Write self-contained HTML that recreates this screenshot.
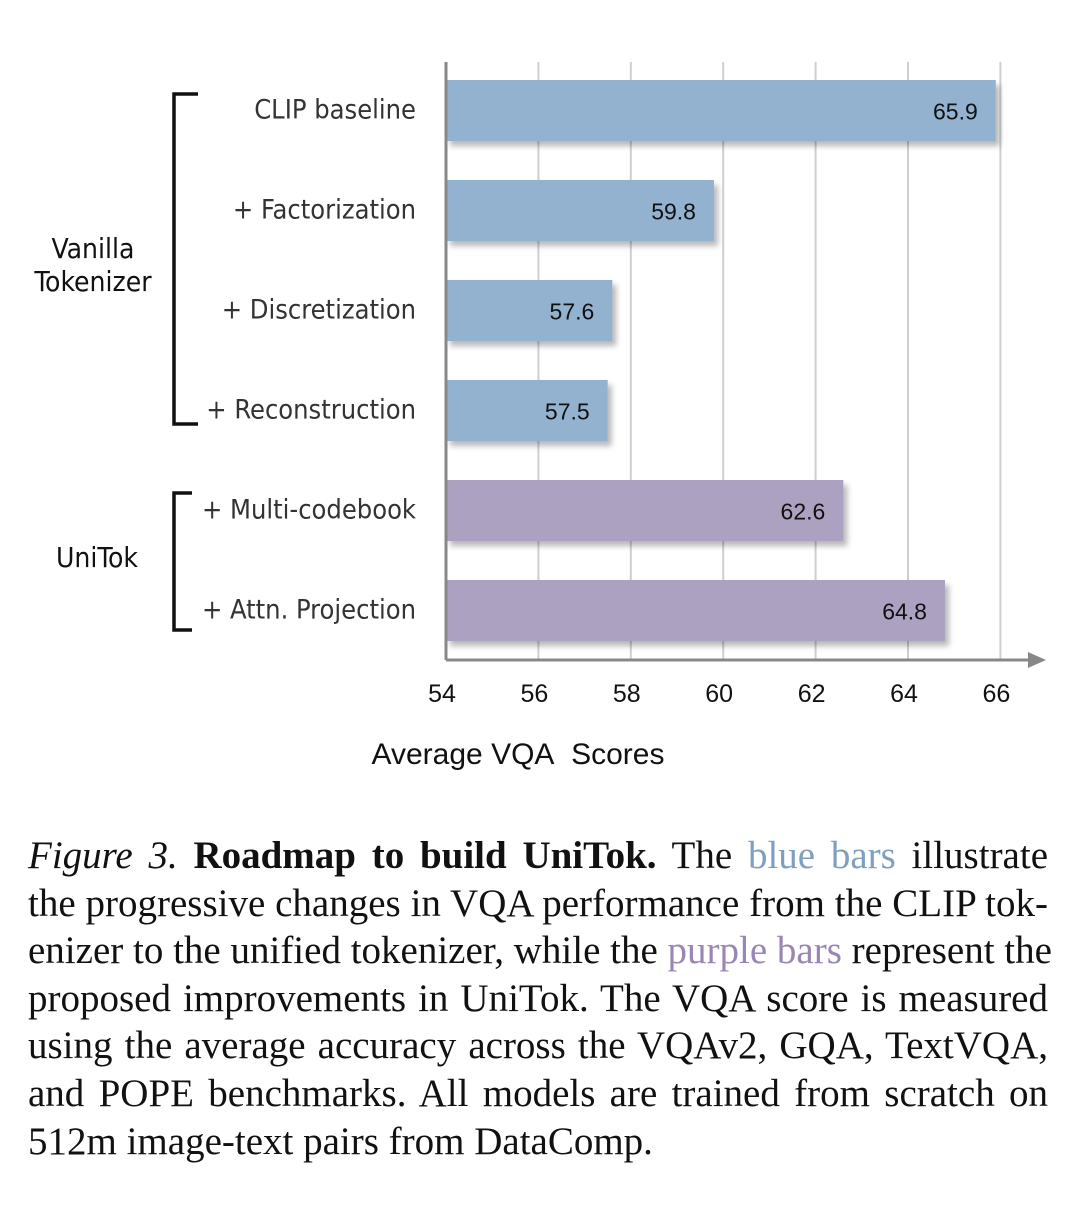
<!DOCTYPE html>
<html><head><meta charset="utf-8">
<style>
html,body{margin:0;padding:0;background:#fff;width:1080px;height:1216px;overflow:hidden;}
#cap{position:absolute;left:28px;top:832px;width:1020px;font-family:"Liberation Serif",serif;font-size:39px;color:#111;}
#cap div{height:47.6px;line-height:47.6px;text-align:justify;text-align-last:justify;white-space:nowrap;}
#cap div.last{text-align-last:left;}
.b{color:#7f9fc1}.p{color:#9a86b5}
</style></head><body>
<svg id="chart" width="1080" height="820" style="position:absolute;left:0;top:0">
<defs><filter id="sh" x="-5%" y="-20%" width="115%" height="160%"><feDropShadow dx="4" dy="5" stdDeviation="3" flood-color="#000" flood-opacity="0.28"/></filter></defs>
<g id="grid"></g><g id="bars"></g><g id="axes"></g><g id="labels"></g>
</svg>
<div id="cap">
<div><i>Figure 3.</i> <b>Roadmap to build UniTok.</b> The <span class="b">blue bars</span> illustrate</div>
<div>the progressive changes in VQA performance from the CLIP tok-</div>
<div>enizer to the unified tokenizer, while the <span class="p">purple bars</span> represent the</div>
<div>proposed improvements in UniTok. The VQA score is measured</div>
<div>using the average accuracy across the VQAv2, GQA, TextVQA,</div>
<div>and POPE benchmarks. All models are trained from scratch on</div>
<div class="last">512m image-text pairs from DataComp.</div>
</div>
<script>
const categories=["CLIP baseline","+ Factorization","+ Discretization","+ Reconstruction","+ Multi-codebook","+ Attn. Projection"];
const scores=[65.9,59.8,57.6,57.5,62.6,64.8];
const groups=["vanilla","vanilla","vanilla","vanilla","unitok","unitok"];
const ticks=[54,56,58,60,62,64,66];
const NS="http://www.w3.org/2000/svg";
const x0=446,xMin=54,pxPer=46.2,top0=80,pitch=100,bh=61,axisY=660;
const X=v=>x0+(v-xMin)*pxPer;
const Y=i=>top0+i*pitch;
function mk(t,a,p){const e=document.createElementNS(NS,t);for(const k in a)e.setAttribute(k,a[k]);p.appendChild(e);return e;}
const grid=document.getElementById('grid'),bars=document.getElementById('bars'),axes=document.getElementById('axes'),labels=document.getElementById('labels');
ticks.forEach(t=>{
 if(t!==xMin){const g=mk('line',{x1:X(t),x2:X(t),y1:62,y2:axisY,stroke:'#cfcfcf','stroke-width':2},grid);
 
 }
 const l=mk('text',{x:X(t)-4,y:702,'text-anchor':'middle','font-family':'Liberation Sans, sans-serif','font-size':25,fill:'#111'},labels);
 l.textContent=t;
 
 
});
categories.forEach((c,i)=>{
 const col=groups[i]==='vanilla'?'#92b2d0':'#aca1c0';
 const r=mk('rect',{x:x0,y:Y(i),width:X(scores[i])-x0,height:bh,fill:col,filter:'url(#sh)'},bars);
 
 
 const v=mk('text',{x:X(scores[i])-18,y:Y(i)+bh/2+9,'text-anchor':'end','font-family':'Liberation Sans, sans-serif','font-size':23,fill:'#111'},labels);
 v.textContent=scores[i].toFixed(1);
 
 
 const t=mk('text',{x:416,y:Y(i)+bh/2+8,'text-anchor':'end','font-family':'DejaVu Sans Condensed, DejaVu Sans, sans-serif','font-size':27,fill:'#333'},labels);
 t.textContent=c;
 
 
});
const ya=mk('line',{x1:x0,x2:x0,y1:62,y2:axisY,stroke:'#888','stroke-width':3},axes);


const xa=mk('line',{x1:x0,x2:1030,y1:axisY,y2:axisY,stroke:'#888','stroke-width':3},axes);


const ar=mk('polygon',{points:'1028,652 1046,660 1028,668',fill:'#888'},axes);


const xt=mk('text',{x:518,y:764,'text-anchor':'middle','font-family':'Liberation Sans, sans-serif','font-size':30,fill:'#111'},labels);
xt.textContent='Average VQA\u00a0 Scores';


const b1=mk('path',{d:'M198,94 L174,94 L174,424 L198,424',fill:'none',stroke:'#111','stroke-width':3.5},axes);


const b2=mk('path',{d:'M192,493 L174,493 L174,630 L192,630',fill:'none',stroke:'#111','stroke-width':3.5},axes);


[['Vanilla',93,258],['Tokenizer',93,291],['UniTok',97,567]].forEach((g,k)=>{
 const e=mk('text',{x:g[1],y:g[2],'text-anchor':'middle','font-family':'DejaVu Sans Condensed, DejaVu Sans, sans-serif','font-size':28,fill:'#111'},labels);
 e.textContent=g[0];
 
 
});
</script>
</body></html>
